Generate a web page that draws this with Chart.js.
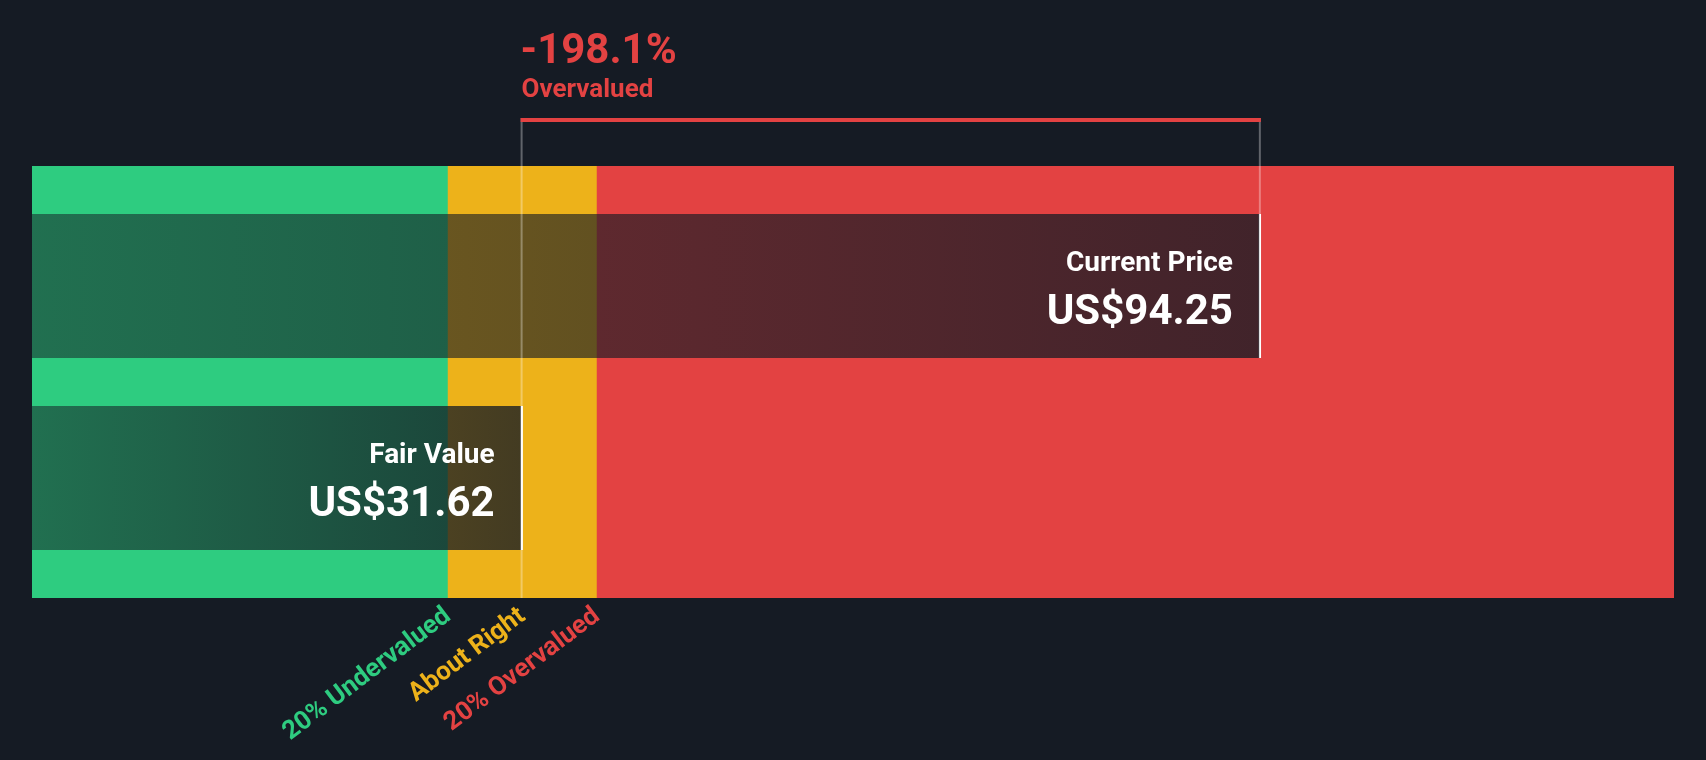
<!DOCTYPE html>
<html>
<head>
<meta charset="utf-8">
<script src="https://cdn.jsdelivr.net/npm/chart.js@4.4.0/dist/chart.umd.min.js"></script>
<style>
html,body{margin:0;padding:0;background:#151b24;overflow:hidden;}
#wrap{width:1706px;height:760px;position:relative;}
</style>
</head>
<body>
<div id="wrap"><canvas id="c"></canvas></div>
<script>
// ---- data ----
const categories = ['Current Price', 'Fair Value'];
const prices = [94.25, 31.62];
const priceLabels = ['US$94.25', 'US$31.62'];
const zoneNames = ['20% Undervalued', 'About Right', '20% Overvalued'];
const zoneEdges = [-10.0, 25.30, 37.94, 129.3];
const tickValues = [25.30, 31.62, 37.94];
const headline = ['-198.1%', 'Overvalued'];

// ---- styles ----
const BG = '#151b24';
const zoneColors = ['#2ecc80', '#edb21a', '#e34242'];
const FONT = 'Roboto, "Noto Sans", sans-serif';

function overlayFill(ctx) {
  const chart = ctx.chart;
  const xs = chart.scales && chart.scales.x;
  const fallback = 'rgba(21,27,36,0.65)';
  if (!xs || ctx.type !== 'data') return fallback;
  const x0 = xs.getPixelForValue(zoneEdges[0]);
  const x1 = xs.getPixelForValue(prices[ctx.dataIndex]);
  if (!isFinite(x0) || !isFinite(x1) || x1 <= x0) return fallback;
  const g = chart.ctx.createLinearGradient(x0, 0, x1, 0);
  g.addColorStop(0, 'rgba(21,27,36,0.52)');
  g.addColorStop(1, 'rgba(21,27,36,0.79)');
  return g;
}

const annotate = {
  id: 'annotate',
  afterDatasetsDraw(chart) {
    const ctx = chart.ctx;
    const xs = chart.scales.x, ys = chart.scales.y;
    const area = chart.chartArea;
    const fvX = xs.getPixelForValue(prices[1]);
    const cpX = xs.getPixelForValue(prices[0]);
    const bars = chart.getDatasetMeta(1).data;
    const cpTop = bars[0].y - bars[0].height / 2;
    const topY = ys.getPixelForValue(10);

    ctx.save();
    // bracket verticals
    ctx.fillStyle = 'rgba(255,255,255,0.32)';
    ctx.fillRect(fvX - 2, topY, 2, area.bottom - topY);
    ctx.fillRect(cpX - 2, topY, 2, cpTop - topY);
    // bracket top
    ctx.fillStyle = zoneColors[2];
    ctx.fillRect(fvX - 2, topY, cpX - fvX + 2, 4);

    // headline
    ctx.fillStyle = zoneColors[2];
    ctx.textAlign = 'left';
    ctx.textBaseline = 'alphabetic';
    ctx.font = 'bold 42px ' + FONT;
    ctx.fillText(headline[0], fvX - 2, topY - 55);
    ctx.font = 'bold 26px ' + FONT;
    ctx.fillText(headline[1], fvX - 1, topY - 21);

    // bar labels
    ctx.fillStyle = '#ffffff';
    ctx.textAlign = 'right';
    bars.forEach((b, i) => {
      const right = b.x - 28;
      ctx.font = 'bold 28px ' + FONT;
      ctx.fillText(categories[i], right, b.y - 15);
      ctx.font = 'bold 42px ' + FONT;
      ctx.fillText(priceLabels[i], right, b.y + 38);
    });
    ctx.restore();
  }
};

new Chart(document.getElementById('c'), {
  type: 'bar',
  data: {
    datasets: [
      {
        label: 'zones',
        data: zoneNames.map((n, i) => ({ x: [zoneEdges[i], zoneEdges[i + 1]], y: 4.5 })),
        backgroundColor: zoneColors,
        barThickness: 432,
        grouped: false,
        borderWidth: 0,
        order: 2
      },
      {
        label: 'prices',
        data: prices.map((v, i) => ({ x: [zoneEdges[0], v], y: 6.5 - 4 * i })),
        backgroundColor: overlayFill,
        borderColor: '#ffffff',
        borderWidth: { top: 0, bottom: 0, left: 0, right: 2 },
        borderSkipped: false,
        barThickness: 144,
        grouped: false,
        order: 1
      }
    ]
  },
  options: {
    indexAxis: 'y',
    responsive: true,
    maintainAspectRatio: false,
    animation: false,
    events: [],
    layout: { padding: { top: 166, left: 32, right: 32, bottom: 0 } },
    plugins: { legend: { display: false }, tooltip: { enabled: false }, title: { display: false } },
    scales: {
      y: { type: 'linear', min: 0, max: 9, offset: false, display: false },
      x: {
        type: 'linear',
        min: zoneEdges[0],
        max: zoneEdges[3],
        offset: false,
        grid: { display: false, drawTicks: false },
        border: { display: false },
        afterBuildTicks: (s) => { s.ticks = tickValues.map(v => ({ value: v })); },
        afterFit: (s) => { s.height = 162; },
        ticks: {
          autoSkip: false,
          minRotation: 37,
          maxRotation: 37,
          padding: 3,
          color: (c) => zoneColors[c.index],
          font: { family: FONT, size: 26, weight: 'bold' },
          callback: (v, i) => zoneNames[i]
        }
      }
    }
  },
  plugins: [annotate]
});
</script>
</body>
</html>
